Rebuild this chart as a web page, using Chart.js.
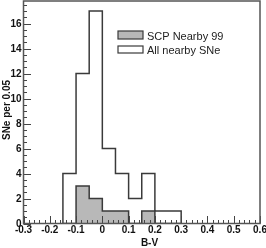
<!DOCTYPE html>
<html>
<head>
<meta charset="utf-8">
<script src="https://cdn.jsdelivr.net/npm/chart.js@4/dist/chart.umd.min.js"></script>
<style>
  html, body { margin: 0; padding: 0; background: #fff; }
  #box { width: 266px; height: 248px; }
</style>
</head>
<body>
<div id="box"><canvas id="chart_bv"></canvas></div>
<script>
// bordas dos bins (largura 0.05) e contagens
var binEdges = [-0.15, -0.1, -0.05, 0, 0.05, 0.1, 0.15, 0.2, 0.25, 0.3];
var allCounts = [4, 12, 17, 6, 4, 2, 4, 1, 1];
var scpCounts = [0, 3, 2, 1, 1, 0, 1, 0, 0];
var legendLabels = ['SCP Nearby 99', 'All nearby SNe'];
var xTicks = [-0.3, -0.2, -0.1, 0, 0.1, 0.2, 0.3, 0.4, 0.5, 0.6];
var xTickLabels = ['-0.3', '-0.2', '-0.1', '0', '0.1', '0.2', '0.3', '0.4', '0.5', '0.6'];
var yTicks = [0, 2, 4, 6, 8, 10, 12, 14, 16];
var xTitulo = 'B-V';
var yTitulo = 'SNe per 0.05';

// transforma contagens em pontos para linha em degrau
function montarDegraus(counts) {
    var pts = [{ x: binEdges[0], y: 0 }];
    for (var i = 0; i < counts.length; i++) {
        pts.push({ x: binEdges[i + 1], y: counts[i] });
    }
    pts.push({ x: binEdges[binEdges.length - 1], y: 0 });
    return pts;
}

var corLinha = '#3a3a3a';
var corCinza = '#b8b8b8';
var familia = '"Liberation Sans", Arial, sans-serif';

// moldura, ticks internos, rótulos e legenda (estilo ROOT)
var estiloRoot = {
    id: 'estiloRoot',
    afterDatasetsDraw: function (chart) {
        var ctx = chart.ctx;
        var a = chart.chartArea;
        var xs = chart.scales.x;
        var ys = chart.scales.y;
        ctx.save();
        ctx.strokeStyle = '#444';
        ctx.lineWidth = 1;
        // ticks x (a cada 0.02, maiores a cada 0.1)
        for (var k = -30; k <= 60; k += 2) {
            var px = Math.round(xs.getPixelForValue(k / 100)) + 0.5;
            var len = (k % 10 == 0) ? 7.5 : 3.5;
            ctx.beginPath();
            ctx.moveTo(px, a.bottom);
            ctx.lineTo(px, a.bottom - len);
            ctx.stroke();
        }
        // ticks y (a cada 0.5, maiores a cada 2)
        for (var w = 0; w <= 17.5; w += 0.5) {
            var py = Math.round(ys.getPixelForValue(w)) + 0.5;
            var leny = (w % 2 == 0) ? 7.5 : 3.5;
            ctx.beginPath();
            ctx.moveTo(a.left, py);
            ctx.lineTo(a.left + leny, py);
            ctx.stroke();
        }
        // moldura
        ctx.lineWidth = 1.5;
        ctx.strokeStyle = '#555';
        ctx.strokeRect(a.left, a.top, a.right - a.left, a.bottom - a.top);

        // rótulos dos eixos
        ctx.fillStyle = '#111';
        ctx.font = 'bold 10px ' + familia;
        ctx.textAlign = 'center';
        ctx.textBaseline = 'alphabetic';
        for (var i = 0; i < xTicks.length; i++) {
            ctx.fillText(xTickLabels[i], xs.getPixelForValue(xTicks[i]), a.bottom + 9.5);
        }
        ctx.textAlign = 'right';
        ctx.textBaseline = 'middle';
        for (var j = 0; j < yTicks.length; j++) {
            ctx.fillText(String(yTicks[j]), a.left - 2, ys.getPixelForValue(yTicks[j]) + 0.5);
        }
        ctx.textAlign = 'center';
        ctx.textBaseline = 'alphabetic';
        ctx.fillText(xTitulo, 149.5, 246);
        ctx.save();
        ctx.translate(10, 110);
        ctx.rotate(-Math.PI / 2);
        ctx.fillText(yTitulo, 0, 0);
        ctx.restore();

        // legenda
        var lx = 118, ly = 31;
        ctx.lineWidth = 1.2;
        ctx.strokeStyle = corLinha;
        ctx.fillStyle = corCinza;
        ctx.fillRect(lx, ly, 25, 8);
        ctx.strokeRect(lx, ly, 25, 8);
        ctx.fillStyle = '#fff';
        ctx.fillRect(lx, ly + 15, 25, 7);
        ctx.strokeRect(lx, ly + 15, 25, 7);
        ctx.fillStyle = '#222';
        ctx.font = '11px ' + familia;
        ctx.textAlign = 'left';
        ctx.fillText(legendLabels[0], 147, ly + 8.5);
        ctx.fillText(legendLabels[1], 147, ly + 23);
        ctx.restore();
    }
};

var config_bv = {
    type: 'line',
    data: {
        datasets: [{
            label: legendLabels[0],
            data: montarDegraus(scpCounts),
            stepped: 'after',
            fill: 'origin',
            backgroundColor: corCinza,
            borderColor: corLinha,
            borderWidth: 1.5,
            pointRadius: 0,
            order: 0
        }, {
            label: legendLabels[1],
            data: montarDegraus(allCounts),
            stepped: 'after',
            fill: false,
            borderColor: corLinha,
            borderWidth: 1.5,
            pointRadius: 0,
            order: 1
        }]
    },
    options: {
        responsive: true,
        maintainAspectRatio: false,
        animation: false,
        layout: {
            padding: { top: 1, right: 6, left: 23.5, bottom: 24.5 }
        },
        plugins: {
            legend: { display: false },
            tooltip: { enabled: false }
        },
        scales: {
            x: { type: 'linear', min: -0.3, max: 0.6, display: false },
            y: { min: 0, max: 17.8, display: false }
        }
    },
    plugins: [estiloRoot]
};

var chart_bv = new Chart(document.getElementById('chart_bv'), config_bv);
</script>
</body>
</html>
